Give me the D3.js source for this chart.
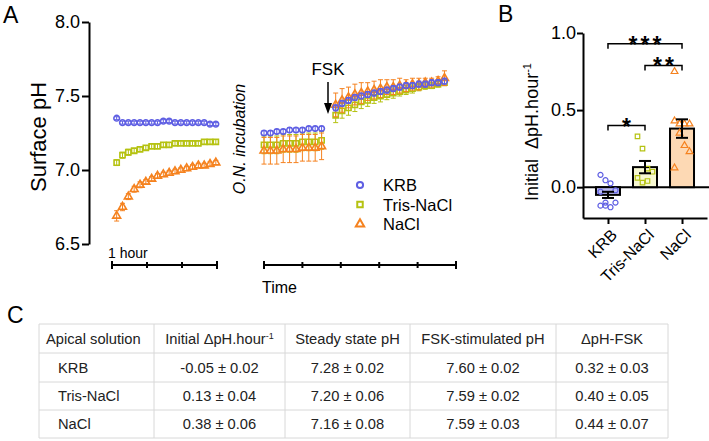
<!DOCTYPE html>
<meta charset="utf-8">
<script src="https://cdn.jsdelivr.net/npm/d3@7"></script>
<style>
  body { margin: 0; background: #fff; }
  svg { display: block; font-family: Arial, "Liberation Sans", sans-serif; }
  .panel { font-size: 23px; }
  .tick text { font-size: 18px; fill: #000; }
  .axis path, .axis line { stroke: #000; stroke-width: 2; }
  .label { font-size: 16px; }
  .cell { font-size: 14.7px; fill: #222; }
</style>
<svg width="709" height="441"></svg>
<script>

////////////////////
// DATA

const series = ["KRB", "Tris-NaCl", "NaCl"];
const colors = ["#5f5fe3", "#b5c211", "#f5821f"];
const fills = ["#b9b9f2", "#f7f8d2", "#fdd9b4"];

// panel A, first recording (minutes)
const timesPre = [8, 18, 28, 38, 48, 58, 68, 78, 88, 98, 108, 118, 128, 138, 148, 158, 168, 178];
const krbPre = [7.35, 7.32, 7.32, 7.32, 7.32, 7.32, 7.32, 7.32, 7.33, 7.33, 7.32, 7.32, 7.32, 7.32, 7.32, 7.32, 7.31, 7.31];
const trisPre = [7.05, 7.10, 7.12, 7.13, 7.14, 7.15, 7.16, 7.16, 7.17, 7.17, 7.18, 7.18, 7.18, 7.18, 7.18, 7.19, 7.19, 7.19];
const naclPre = [6.69, 6.75, 6.82, 6.87, 6.90, 6.92, 6.94, 6.96, 6.97, 6.98, 6.99, 7.00, 7.01, 7.02, 7.03, 7.03, 7.04, 7.05];
const krbPreSem = [0.01, 0.01, 0.01, 0.01, 0.01, 0.01, 0.01, 0.01, 0.01, 0.01, 0.01, 0.01, 0.01, 0.01, 0.01, 0.01, 0.01, 0.01];
const trisPreSem = [0.02, 0.02, 0.02, 0.015, 0.015, 0.015, 0.015, 0.015, 0.015, 0.015, 0.015, 0.015, 0.015, 0.015, 0.015, 0.015, 0.015, 0.015];
const naclPreSem = [0.035, 0.025, 0.02, 0.02, 0.02, 0.015, 0.015, 0.015, 0.015, 0.015, 0.015, 0.015, 0.015, 0.015, 0.015, 0.015, 0.015, 0.015];

// panel A, after O.N. incubation (minutes), FSK added at 100 min
const timesPost = [0, 10, 20, 30, 40, 50, 60, 70, 80, 90,
  112, 122, 132, 142, 152, 162, 172, 182, 192, 202, 212, 222, 232, 242, 252, 262, 272, 282];
const krbPost = [7.25, 7.25, 7.26, 7.26, 7.27, 7.27, 7.27, 7.28, 7.28, 7.28,
  7.42, 7.45, 7.47, 7.49, 7.50, 7.51, 7.52, 7.53, 7.54, 7.55, 7.56, 7.57, 7.57, 7.58, 7.58, 7.59, 7.59, 7.60];
const trisPost = [7.17, 7.17, 7.17, 7.18, 7.18, 7.18, 7.19, 7.19, 7.19, 7.20,
  7.37, 7.40, 7.42, 7.44, 7.46, 7.47, 7.49, 7.50, 7.51, 7.52, 7.53, 7.54, 7.55, 7.56, 7.57, 7.57, 7.58, 7.59];
const naclPost = [7.13, 7.13, 7.13, 7.14, 7.14, 7.14, 7.15, 7.15, 7.15, 7.16,
  7.44, 7.47, 7.49, 7.51, 7.52, 7.53, 7.54, 7.55, 7.56, 7.56, 7.57, 7.57, 7.58, 7.58, 7.59, 7.59, 7.60, 7.62];
const krbPostSem = [0.015, 0.015, 0.015, 0.015, 0.015, 0.015, 0.015, 0.015, 0.015, 0.015,
  0.02, 0.02, 0.02, 0.02, 0.02, 0.02, 0.02, 0.02, 0.02, 0.02, 0.02, 0.02, 0.02, 0.02, 0.02, 0.02, 0.02, 0.02];
const trisPostSem = [0.06, 0.06, 0.06, 0.06, 0.06, 0.06, 0.06, 0.06, 0.06, 0.06,
  0.05, 0.05, 0.05, 0.045, 0.045, 0.04, 0.04, 0.04, 0.035, 0.035, 0.03, 0.03, 0.03, 0.025, 0.025, 0.02, 0.02, 0.02];
const naclPostSem = [0.09, 0.09, 0.09, 0.09, 0.09, 0.09, 0.09, 0.09, 0.09, 0.09,
  0.08, 0.08, 0.07, 0.07, 0.07, 0.06, 0.06, 0.06, 0.05, 0.05, 0.05, 0.04, 0.04, 0.04, 0.03, 0.03, 0.03, 0.05];
const fskTime = 100;

// panel B, initial rate
const rateMean = [-0.05, 0.13, 0.38];
const rateSem = [0.02, 0.04, 0.06];
const krbRates = [0.08, 0.045, 0.025, -0.02, -0.03, -0.10, -0.13, -0.10, -0.12, -0.12];
const trisRates = [0.33, 0.25, 0.12, 0.10, 0.06, 0.03, 0.04];
const naclRates = [0.75, 0.41, 0.41, 0.41, 0.43, 0.35, 0.27, 0.23, 0.125];
const sigPairs = [[0, 2, "***"], [1, 2, "**"], [0, 1, "*"]];
const sigLevels = [0.93, 0.79, 0.40];

// panel C, table
const tableHeader = ["Apical solution", "Initial \u0394pH.hour", "Steady state pH", "FSK-stimulated pH", "\u0394pH-FSK"];
const tableRows = [
  ["KRB", "-0.05 \u00b1 0.02", "7.28 \u00b1 0.02", "7.60 \u00b1 0.02", "0.32 \u00b1 0.03"],
  ["Tris-NaCl", "0.13 \u00b1 0.04", "7.20 \u00b1 0.06", "7.59 \u00b1 0.02", "0.40 \u00b1 0.05"],
  ["NaCl", "0.38 \u00b1 0.06", "7.16 \u00b1 0.08", "7.59 \u00b1 0.03", "0.44 \u00b1 0.07"]
];

const svg = d3.select("svg");

const symbols = [d3.symbolCircle, d3.symbolSquare, d3.symbolTriangle];
const symbolSizes = [25, 27, 27];
const marker = i => d3.symbol().type(symbols[i]).size(symbolSizes[i])();

////////////////////
// PANEL A

svg.append("text").attr("class", "panel").attr("x", 3).attr("y", 23).text("A");

const yA = d3.scaleLinear().domain([6.5, 8.0]).range([244, 22]);
const xPre = d3.scaleLinear().domain([0, 180]).range([112, 217]);
const xPost = d3.scaleLinear().domain([0, 300]).range([264, 456]);

svg.append("g")
  .attr("class", "axis")
  .attr("transform", "translate(89,0)")
  .call(d3.axisLeft(yA).tickValues([6.5, 7.0, 7.5, 8.0]).tickFormat(d3.format(".1f")).tickSize(7).tickSizeOuter(0))
  .call(g => g.selectAll(".tick text").attr("x", -9));

svg.append("text")
  .attr("transform", "translate(46,137) rotate(-90)")
  .attr("text-anchor", "middle")
  .style("font-size", "22px")
  .text("Surface pH");

// bracket-like time axes
function timeAxis(x, ticks) {
  const g = svg.append("g").attr("stroke", "#000").attr("stroke-width", 2);
  const y0 = 265;
  g.append("line").attr("x1", x(ticks[0])).attr("x2", x(ticks[ticks.length - 1])).attr("y1", y0).attr("y2", y0);
  g.selectAll(".t").data(ticks).join("line")
    .attr("x1", d => x(d)).attr("x2", d => x(d))
    .attr("y1", (d, i) => i == 0 || i == ticks.length - 1 ? y0 - 4 : y0 - 3)
    .attr("y2", (d, i) => i == 0 || i == ticks.length - 1 ? y0 + 4 : y0 + 3);
}
timeAxis(xPre, [0, 60, 120, 180]);
timeAxis(xPost, [0, 60, 120, 180, 240, 300]);

svg.append("text").attr("x", 108).attr("y", 258).style("font-size", "14px").text("1 hour");
svg.append("text").attr("class", "label").attr("x", 262).attr("y", 293).text("Time");

svg.append("text")
  .attr("transform", "translate(245,139) rotate(-90)")
  .attr("text-anchor", "middle")
  .style("font-size", "16px")
  .style("font-style", "italic")
  .text("O.N. incubation");

// error bars + markers
function drawSeries(x, times, values, sems, i) {
  const g = svg.append("g");
  const pts = times.map((t, k) => ({ t: t, v: values[k], s: sems[k] }));
  const err = g.append("g").attr("stroke", colors[i]).attr("stroke-width", 1);
  err.selectAll(".v").data(pts).join("line")
    .attr("x1", d => x(d.t)).attr("x2", d => x(d.t))
    .attr("y1", d => yA(d.v - d.s)).attr("y2", d => yA(d.v + d.s));
  [-1, 1].forEach(sign => {
    err.selectAll(".c" + sign).data(pts).join("line")
      .attr("x1", d => x(d.t) - 2.5).attr("x2", d => x(d.t) + 2.5)
      .attr("y1", d => yA(d.v + sign * d.s)).attr("y2", d => yA(d.v + sign * d.s));
  });
  g.selectAll("path").data(pts).join("path")
    .attr("d", marker(i))
    .attr("transform", d => `translate(${x(d.t)},${yA(d.v)})`)
    .attr("fill", "none")
    .attr("stroke", colors[i])
    .attr("stroke-width", 1.6);
}

drawSeries(xPre, timesPre, trisPre, trisPreSem, 1);
drawSeries(xPre, timesPre, naclPre, naclPreSem, 2);
drawSeries(xPre, timesPre, krbPre, krbPreSem, 0);
drawSeries(xPost, timesPost, trisPost, trisPostSem, 1);
drawSeries(xPost, timesPost, naclPost, naclPostSem, 2);
drawSeries(xPost, timesPost, krbPost, krbPostSem, 0);

// FSK arrow
const ax = xPost(fskTime);
svg.append("text").attr("class", "label").attr("x", ax).attr("y", 75)
  .attr("text-anchor", "middle").style("font-size", "17px").text("FSK");
svg.append("line").attr("x1", ax).attr("x2", ax).attr("y1", 82).attr("y2", 106)
  .attr("stroke", "#000").attr("stroke-width", 1.5);
svg.append("path").attr("d", `M${ax - 4},103 L${ax + 4},103 L${ax},114 Z`).attr("fill", "#000");

// legend
const legend = svg.append("g").attr("transform", "translate(360,185)");
series.forEach((s, i) => {
  const row = legend.append("g").attr("transform", `translate(0,${i * 19.5})`);
  row.append("path").attr("d", d3.symbol().type(symbols[i]).size(30)())
    .attr("fill", "none").attr("stroke", colors[i]).attr("stroke-width", 2);
  row.append("text").attr("x", 23).attr("y", 6).style("font-size", "16.5px").text(s);
});

////////////////////
// PANEL B

svg.append("text").attr("class", "panel").attr("x", 498).attr("y", 22).text("B");

const yB = d3.scaleLinear().domain([-0.2, 1.0]).range([218, 33]);
const xB = d3.scalePoint().domain(series).range([583, 707]).padding(0.675);

svg.append("g")
  .attr("class", "axis")
  .attr("transform", "translate(583,0)")
  .call(d3.axisLeft(yB).tickValues([0, 0.5, 1.0]).tickFormat(d3.format(".1f")).tickSize(6).tickSizeOuter(0))
  .call(g => g.selectAll(".tick text").attr("x", -7));

svg.append("g")
  .attr("class", "axis")
  .attr("transform", `translate(0,${yB(-0.2)})`)
  .call(d3.axisBottom(xB).tickSize(6).tickSizeOuter(0).tickFormat(""));

series.forEach(s => {
  svg.append("text")
    .attr("transform", `translate(${xB(s) + 6},232) rotate(-45)`)
    .attr("text-anchor", "end")
    .attr("dy", "0.35em")
    .style("font-size", "16px")
    .text(s);
});

svg.append("line").attr("x1", 583).attr("x2", 709).attr("y1", yB(0)).attr("y2", yB(0))
  .attr("stroke", "#000").attr("stroke-width", 2);

svg.append("text")
  .attr("transform", "translate(538,132) rotate(-90)")
  .attr("text-anchor", "middle")
  .style("font-size", "18px")
  .html("Initial&#160;&#160;\u0394pH.hour<tspan dy='-7' font-size='11px'>-1</tspan>");

const barW = 24;
svg.selectAll(".bar").data(series).join("rect")
  .attr("x", d => xB(d) - barW / 2)
  .attr("width", barW)
  .attr("y", (d, i) => yB(Math.max(0, rateMean[i])))
  .attr("height", (d, i) => Math.abs(yB(rateMean[i]) - yB(0)))
  .attr("fill", (d, i) => fills[i])
  .attr("stroke", "#000")
  .attr("stroke-width", 2);

// individual points
[krbRates, trisRates, naclRates].forEach((vals, i) => {
  svg.append("g").selectAll("path").data(vals).join("path")
    .attr("d", d3.symbol().type(symbols[i]).size(20)())
    .attr("transform", (d, k) => {
      const off = ((k % 4) - 1.5) * 5;
      return `translate(${xB(series[i]) + off},${yB(d)})`;
    })
    .attr("fill", "none")
    .attr("stroke", colors[i])
    .attr("stroke-width", 1.2);
});

// mean +/- sem
series.forEach((s, i) => {
  const g = svg.append("g").attr("stroke", "#000").attr("stroke-width", 2);
  const cx = xB(s);
  g.append("line").attr("x1", cx).attr("x2", cx)
    .attr("y1", yB(rateMean[i] - rateSem[i])).attr("y2", yB(rateMean[i] + rateSem[i]));
  [-1, 1].forEach(sign => {
    g.append("line").attr("x1", cx - 6).attr("x2", cx + 6)
      .attr("y1", yB(rateMean[i] + sign * rateSem[i])).attr("y2", yB(rateMean[i] + sign * rateSem[i]));
  });
});

// significance brackets
sigPairs.forEach((p, k) => {
  const x1 = xB(series[p[0]]), x2 = xB(series[p[1]]), y = yB(sigLevels[k]);
  svg.append("path")
    .attr("d", `M${x1},${y + 5} V${y} H${x2} V${y + 5}`)
    .attr("fill", "none").attr("stroke", "#000").attr("stroke-width", 1.5);
  svg.append("text")
    .attr("x", (x1 + x2) / 2 + 1.5).attr("y", y + 9)
    .attr("text-anchor", "middle")
    .style("font-size", "23px").style("font-weight", "bold").style("letter-spacing", "3px")
    .text(p[2]);
});

////////////////////
// PANEL C

svg.append("text").attr("class", "panel").attr("x", 7).attr("y", 323).text("C");

const colEdges = [39, 154, 285, 410, 556, 668];
const rowEdges = [324, 353, 382, 410, 438];
const table = svg.append("g");

table.selectAll(".hl").data(rowEdges).join("line")
  .attr("x1", colEdges[0]).attr("x2", colEdges[colEdges.length - 1])
  .attr("y1", d => d).attr("y2", d => d)
  .attr("stroke", "#d8d8d8");
table.selectAll(".vl").data(colEdges).join("line")
  .attr("x1", d => d).attr("x2", d => d)
  .attr("y1", rowEdges[0]).attr("y2", rowEdges[rowEdges.length - 1])
  .attr("stroke", "#d8d8d8");

[tableHeader].concat(tableRows).forEach((row, r) => {
  const yMid = (rowEdges[r] + rowEdges[r + 1]) / 2;
  row.forEach((cell, c) => {
    const t = table.append("text").attr("class", "cell").attr("y", yMid + 5);
    if (c == 0) {
      t.attr("x", colEdges[0] + (r == 0 ? 7 : 19)).text(cell);
    } else {
      t.attr("x", (colEdges[c] + colEdges[c + 1]) / 2).attr("text-anchor", "middle").text(cell);
    }
    if (r == 0 && c == 1) {
      t.append("tspan").attr("dy", -5).style("font-size", "9px").text("-1");
    }
  });
});

</script>
